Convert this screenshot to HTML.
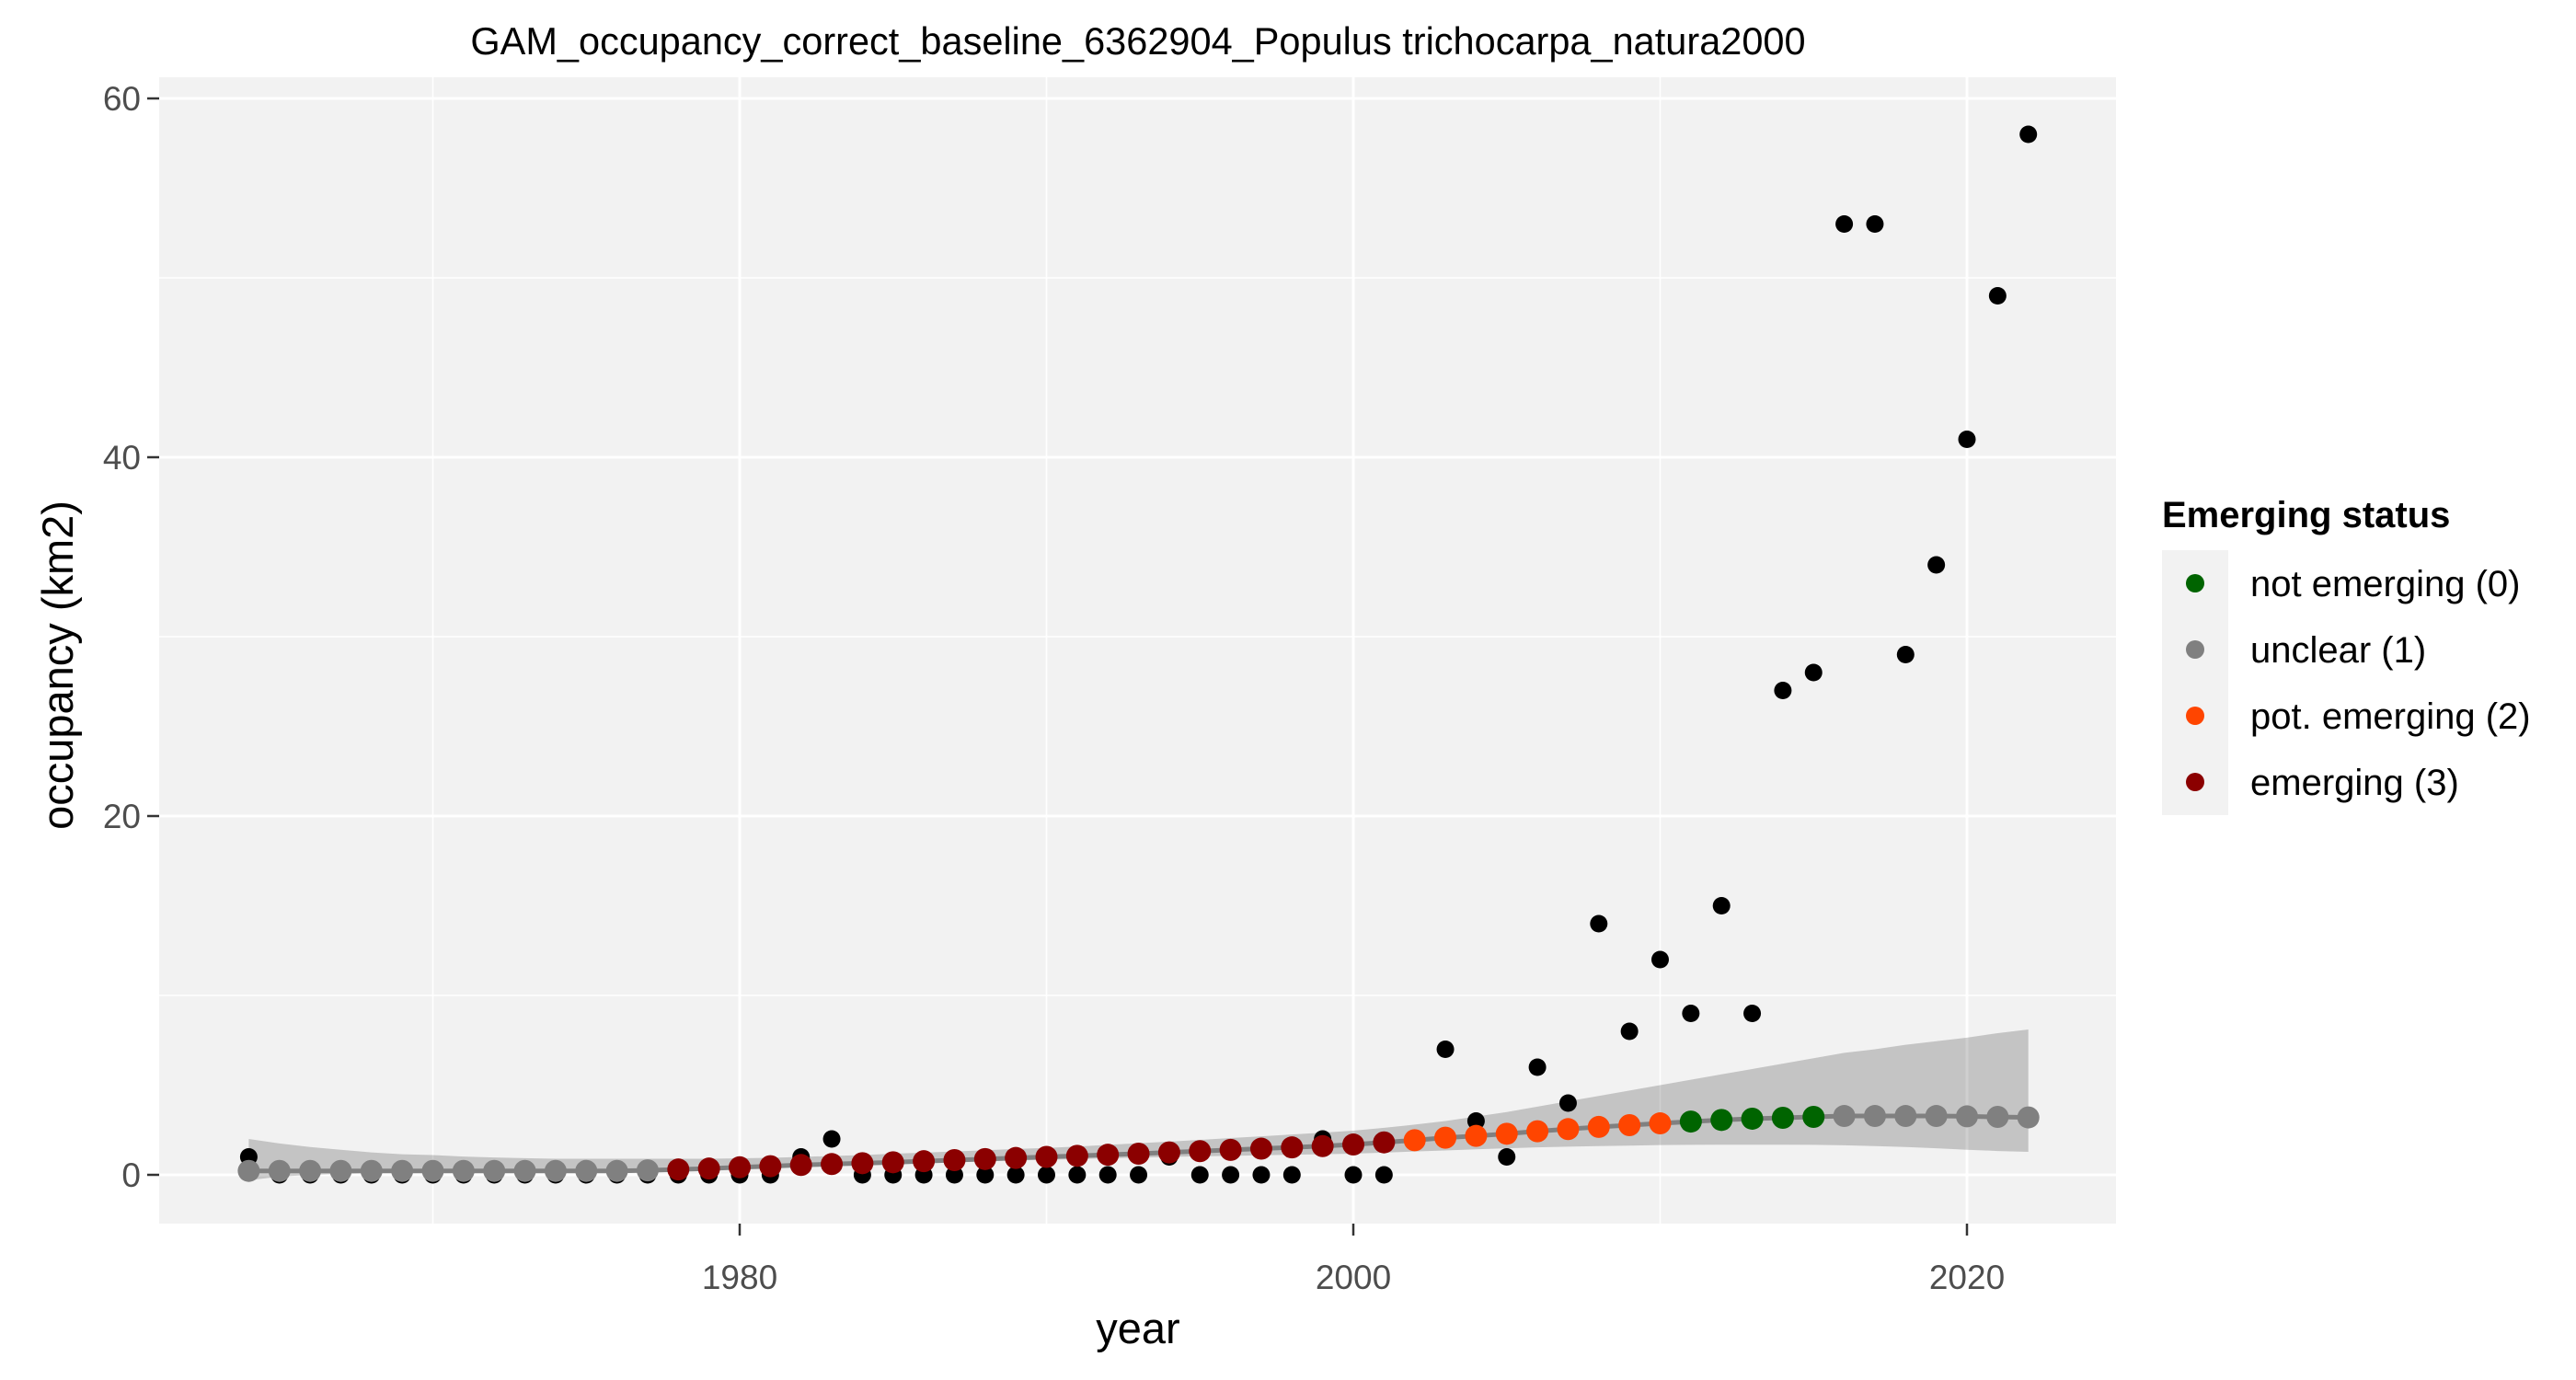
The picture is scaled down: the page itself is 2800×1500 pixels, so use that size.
<!DOCTYPE html>
<html><head><meta charset="utf-8"><style>
body{margin:0;background:#fff;}
svg{display:block;font-family:"Liberation Sans",Arial,sans-serif;}
</style></head><body>
<svg id="chart" width="2800" height="1500" viewBox="0 0 2800 1500">
<rect width="2800" height="1500" fill="#fff"/>
<text x="1237" y="59" font-size="41.5" text-anchor="middle" fill="#000">GAM_occupancy_correct_baseline_6362904_Populus trichocarpa_natura2000</text>
<rect x="173" y="84" width="2127" height="1246" fill="#f2f2f2"/>
<g id="grid"></g>
<g id="obs"></g>
<path id="ribbon" fill="#000" fill-opacity="0.19"/>
<path id="fitline" fill="none" stroke="#808080" stroke-width="5"/>
<g id="fitpts"></g>
<g id="axes"></g>
<text x="0" y="0" font-size="47" text-anchor="middle" fill="#000" transform="translate(79,723) rotate(-90)">occupancy (km2)</text>
<text x="1237" y="1460" font-size="47" text-anchor="middle" fill="#000">year</text>
<g>
<text x="2350" y="573" font-size="40" font-weight="bold" fill="#000">Emerging status</text>
<rect x="2350" y="598" width="72" height="288" fill="#f2f2f2"/>
<circle cx="2386" cy="634" r="10" fill="#006400"/>
<text x="2446" y="648" font-size="40" fill="#000">not emerging (0)</text>
<circle cx="2386" cy="706" r="10" fill="#808080"/>
<text x="2446" y="720" font-size="40" fill="#000">unclear (1)</text>
<circle cx="2386" cy="778" r="10" fill="#ff4500"/>
<text x="2446" y="792" font-size="40" fill="#000">pot. emerging (2)</text>
<circle cx="2386" cy="850" r="10" fill="#8b0000"/>
<text x="2446" y="864" font-size="40" fill="#000">emerging (3)</text>
</g>
</svg>
<script>
const years = [];
for (let y = 1964; y <= 2022; y++) years.push(y);
const observed = [1,0,0,0,0,0,0,0,0,0,0,0,0,0,0,0,0,0,1,2,0,0,0,0,0,0,0,0,0,0,1,0,0,0,0,2,0,0,2,7,3,1,6,4,14,8,12,9,15,9,27,28,53,53,29,34,41,49,58];
const fitted = [0.22,0.22,0.22,0.22,0.22,0.22,0.22,0.22,0.22,0.22,0.22,0.22,0.22,0.25,0.3,0.35,0.42,0.48,0.55,0.6,0.65,0.7,0.76,0.82,0.88,0.94,1.0,1.06,1.12,1.18,1.25,1.32,1.39,1.46,1.53,1.6,1.69,1.81,1.93,2.07,2.17,2.29,2.43,2.55,2.67,2.77,2.87,2.97,3.06,3.13,3.18,3.23,3.28,3.28,3.28,3.28,3.26,3.23,3.2];
const upper = [2.0,1.75,1.55,1.4,1.25,1.15,1.1,1.02,0.97,0.93,0.9,0.9,0.9,0.9,0.9,0.9,0.92,0.95,1.0,1.05,1.1,1.18,1.24,1.3,1.37,1.44,1.5,1.58,1.67,1.76,1.85,1.95,2.05,2.15,2.25,2.35,2.46,2.62,2.8,3.0,3.25,3.5,3.8,4.1,4.4,4.7,5.0,5.3,5.6,5.9,6.2,6.5,6.8,7.0,7.25,7.45,7.65,7.9,8.1];
const lower = [-0.3,-0.1,0.0,0.05,0.1,0.1,0.12,0.14,0.16,0.18,0.2,0.22,0.25,0.28,0.32,0.36,0.4,0.45,0.5,0.55,0.6,0.64,0.68,0.72,0.76,0.8,0.84,0.88,0.92,0.96,1.0,1.03,1.06,1.09,1.12,1.15,1.18,1.24,1.3,1.36,1.42,1.48,1.53,1.57,1.6,1.63,1.66,1.67,1.68,1.68,1.68,1.67,1.65,1.6,1.55,1.48,1.4,1.33,1.28];
const status = [1,1,1,1,1,1,1,1,1,1,1,1,1,1,3,3,3,3,3,3,3,3,3,3,3,3,3,3,3,3,3,3,3,3,3,3,3,3,2,2,2,2,2,2,2,2,2,0,0,0,0,0,1,1,1,1,1,1,1];
const yTicks = [0,20,40,60];
const xTicks = [1980,2000,2020];

const statusColors = ['#006400','#808080','#ff4500','#8b0000'];
const NS = 'http://www.w3.org/2000/svg';
const X0 = 173, X1 = 2300, Y0 = 84, Y1 = 1330;
function xs(v){ return 804 + (v - 1980) * 33.35; }
function ys(v){ return 1277 - v * 19.5; }
function mk(tag, attrs, parent){
  const e = document.createElementNS(NS, tag);
  for (const k in attrs) e.setAttribute(k, attrs[k]);
  parent.appendChild(e); return e;
}
const grid = document.getElementById('grid');
for (let i = 0; i < yTicks.length - 1; i++) {
  const v = (yTicks[i] + yTicks[i+1]) / 2;
  const l = mk('line', {x1:X0, x2:X1, y1:ys(v), y2:ys(v), stroke:'#fff', 'stroke-width':1.5}, grid);
  
  
}
for (let i = 0; i <= xTicks.length; i++) {
  const v = xTicks[0] - 10 + i * 20;
  const l = mk('line', {x1:xs(v), x2:xs(v), y1:Y0, y2:Y1, stroke:'#fff', 'stroke-width':1.5}, grid);
  
  
}
yTicks.forEach(v => {
  const l = mk('line', {x1:X0, x2:X1, y1:ys(v), y2:ys(v), stroke:'#fff', 'stroke-width':3}, grid);
  
  
});
xTicks.forEach(v => {
  const l = mk('line', {x1:xs(v), x2:xs(v), y1:Y0, y2:Y1, stroke:'#fff', 'stroke-width':3}, grid);
  
  
});
const obs = document.getElementById('obs');
years.forEach((yr, i) => {
  const c = mk('circle', {cx:xs(yr), cy:ys(observed[i]), r:9.5, fill:'#000'}, obs);
  
  
});
let rp = '';
years.forEach((yr, i) => { rp += (i ? 'L' : 'M') + xs(yr) + ',' + ys(upper[i]); });
for (let i = years.length - 1; i >= 0; i--) rp += 'L' + xs(years[i]) + ',' + ys(lower[i]);
document.getElementById('ribbon').setAttribute('d', rp + 'Z');
let lp = '';
years.forEach((yr, i) => { lp += (i ? 'L' : 'M') + xs(yr) + ',' + ys(fitted[i]); });
document.getElementById('fitline').setAttribute('d', lp);
const fp = document.getElementById('fitpts');
years.forEach((yr, i) => {
  const c = mk('circle', {cx:xs(yr), cy:ys(fitted[i]), r:12, fill:statusColors[status[i]]}, fp);
  
  
});
const axes = document.getElementById('axes');
yTicks.forEach(v => {
  const t = mk('line', {x1:X0-13, x2:X0, y1:ys(v), y2:ys(v), stroke:'#333', 'stroke-width':2.5}, axes);
  
  
  const tx = mk('text', {x:X0-20, y:ys(v)+13, 'font-size':37, 'text-anchor':'end', fill:'#4d4d4d'}, axes);
  tx.textContent = v;
  
  
});
xTicks.forEach(v => {
  const t = mk('line', {x1:xs(v), x2:xs(v), y1:Y1, y2:Y1+13, stroke:'#333', 'stroke-width':2.5}, axes);
  
  
  const tx = mk('text', {x:xs(v), y:1401, 'font-size':37, 'text-anchor':'middle', fill:'#4d4d4d'}, axes);
  tx.textContent = v;
  
  
});
</script>
</body></html>
